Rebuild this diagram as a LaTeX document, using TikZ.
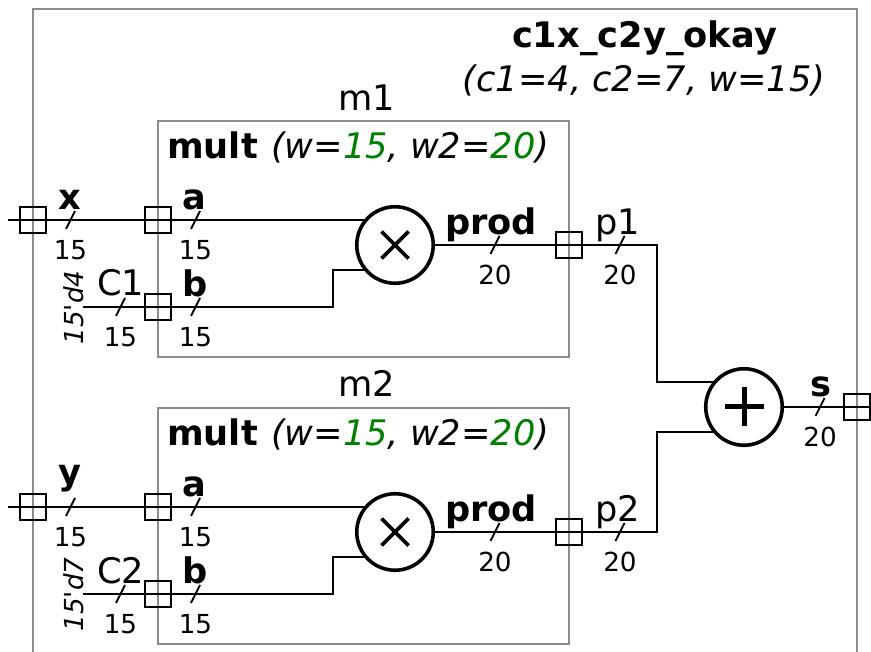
\documentclass[tikz,border=0pt]{standalone}
\usepackage{fontspec}
\setmainfont{DejaVu Sans}
\newfontfamily\constfont{DejaVu Sans}
\definecolor{okgreen}{RGB}{0,128,0}
\definecolor{boxgray}{RGB}{140,140,140}
\newcommand{\fsL}{\fontsize{35.2}{38}\selectfont}
\newcommand{\fsS}{\fontsize{26.2}{30}\selectfont}
\tikzset{
  x=1pt,y=-1pt,
  frame/.style={draw=boxgray,line width=2pt},
  modbox/.style={draw=boxgray,line width=2pt,rectangle,inner sep=0pt,outer sep=0pt,minimum width=411pt,minimum height=236pt,anchor=north west},
  wire/.style={draw=black,line width=2.2pt},
  port/.style={draw=black,line width=2.2pt,minimum size=26pt,inner sep=0pt,outer sep=0pt,rectangle,fill=none},
  oper/.style={draw=black,line width=3.6pt,circle,minimum size=76.5pt,inner sep=0pt,outer sep=0pt,fill=white},
  lbl/.style={anchor=base,inner sep=0pt,font=\fsL},
  blbl/.style={anchor=base,inner sep=0pt,font=\fsL\bfseries},
  wid/.style={anchor=base,inner sep=0pt,font=\fsS},
  const/.style={anchor=base,inner sep=0pt,font=\fsS\constfont\itshape,rotate=90},
  bus/.style={draw=black,line width=1.8pt},
  timesmark/.style={draw=black,line width=3.6pt},
  plusmark/.style={draw=black,line width=5pt},
}
\newcommand{\busmark}[3]{%
  \draw[bus] (#1-4.5,#2+9) -- (#1+4.5,#2-9);
  \node[wid] at (#1,#2+39.5) {#3};
}
\newcommand{\multlabel}{\textbf{mult}\hspace{2pt} \textit{(w=\textcolor{okgreen}{15}, w2=\textcolor{okgreen}{20})}}
\begin{document}
\begin{tikzpicture}
\useasboundingbox (0,0) rectangle (871,652);
% outer frame
\coordinate (fbl) at (33,652);
\coordinate (ftl) at (33,9);
\coordinate (ftr) at (857,9);
\coordinate (fbr) at (857,652);
\draw[frame] (fbl) -- (ftl) -- (ftr) -- (fbr);
\node[blbl] (title) at (644.5,47.5) {c1x\_c2y\_okay};
\node[lbl,font=\fsL\itshape] (params) at (644,91.5) {(c1=4, c2=7, w=15)};

% instances
\node[lbl] (m1name) at (367,110.5) {m1};
\node[modbox] (m1box) at (158,121) {};
\node[anchor=base west,inner sep=0pt,font=\fsL] (m1title) at (167,159) {\multlabel};
\node[lbl] (m2name) at (367,396.5) {m2};
\node[modbox] (m2box) at (158,408) {};
\node[anchor=base west,inner sep=0pt,font=\fsL] (m2title) at (167,446) {\multlabel};

% operators
\node[oper] (m1op) at (395,245) {};
\node[oper] (m2op) at (395,532) {};
\node[oper] (addop) at (744,407) {};
\draw[timesmark] (m1op.center) ++(-13.5,-13.5) -- ++(27,27) ++(-27,0) -- ++(27,-27);
\draw[timesmark] (m2op.center) ++(-13.5,-13.5) -- ++(27,27) ++(-27,0) -- ++(27,-27);
\draw[plusmark] (addop.center) ++(-19.5,0) -- ++(39,0) ++(-19.5,-19.5) -- ++(0,39);

% ports
\node[port] (px) at (33,220) {};
\node[port] (ma1) at (158,220) {};
\node[port] (mb1) at (158,307) {};
\node[port] (out1) at (569,245) {};
\node[port] (py) at (33,507) {};
\node[port] (ma2) at (158,507) {};
\node[port] (mb2) at (158,594) {};
\node[port] (out2) at (569,532) {};
\node[port] (ps) at (857,407) {};

% free ends and bends
\coordinate (xin) at (8,220);
\coordinate (yin) at (8,507);
\coordinate (sout) at (870,407);
\coordinate (c1) at (83,307);
\coordinate (c2) at (83,594);
\coordinate (j1) at (333,270);
\coordinate (j2) at (333,557);
\coordinate (k1) at (657,382);
\coordinate (k2) at (657,432);

% wires
\draw[wire] (xin) -- (xin -| m1op.137.5);
\draw[wire] (c1) -| (j1) -- (j1 -| m1op.222.5);
\draw[wire] (m1op) -| (k1) -- (k1 -| addop.137.5);
\draw[wire] (yin) -- (yin -| m2op.137.5);
\draw[wire] (c2) -| (j2) -- (j2 -| m2op.222.5);
\draw[wire] (m2op) -| (k2) -- (k2 -| addop.222.5);
\draw[wire] (addop) -- (sout);

% bus marks
\busmark{70.5}{220}{15}
\busmark{195.5}{220}{15}
\busmark{195.5}{307}{15}
\busmark{120.5}{307}{15}
\busmark{495}{245}{20}
\busmark{620}{245}{20}
\busmark{70.5}{507}{15}
\busmark{195.5}{507}{15}
\busmark{195.5}{594}{15}
\busmark{120.5}{594}{15}
\busmark{495}{532}{20}
\busmark{620}{532}{20}
\busmark{820}{407}{20}

% labels
\node[blbl] (lx) at (69.5,209.5) {x};
\node[blbl] (la1) at (194.5,209.5) {a};
\node[blbl] (lb1) at (195.5,296.5) {b};
\node[lbl] (lc1) at (120.5,296) {C1};
\node[blbl] (lp1) at (491,234.5) {prod};
\node[lbl] (lpp1) at (617.5,234.5) {p1};
\node[blbl] (ly) at (69.5,484.5) {y};
\node[blbl] (la2) at (194.5,496.5) {a};
\node[blbl] (lb2) at (195.5,583.5) {b};
\node[lbl] (lc2) at (120.5,583) {C2};
\node[blbl] (lp2) at (491,521.5) {prod};
\node[lbl] (lpp2) at (617.5,521.5) {p2};
\node[blbl] (ls) at (821,396.5) {s};
\node[const] (v1) at (83,307.5) {15'd4};
\node[const] (v2) at (83,594.5) {15'd7};
\end{tikzpicture}
\end{document}
